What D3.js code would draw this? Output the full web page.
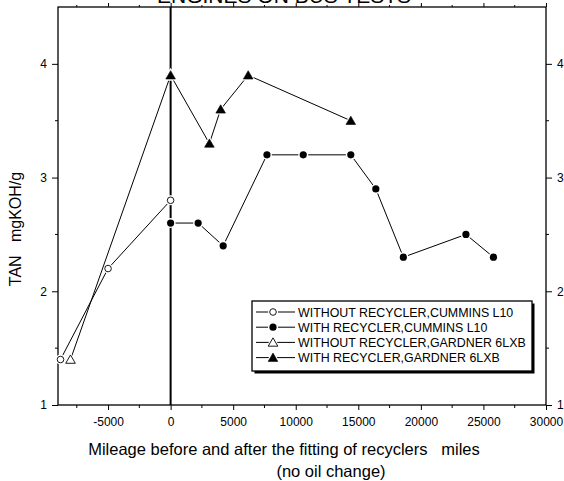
<!DOCTYPE html>
<html>
<head>
<meta charset="utf-8">
<script src="https://cdn.jsdelivr.net/npm/d3@7"></script>
<style>
  html, body { margin: 0; padding: 0; background: #fff; }
  svg { display: block; font-family: "Liberation Sans", Arial, sans-serif; }
  svg text { white-space: pre; }
</style>
</head>
<body>
<svg id="chart" width="564" height="481"></svg>
<script>
// TAN of engine oil, before and after the fitting of recyclers
const titleText = "ENGINES ON BUS TESTS";
const xLabel1 = "Mileage before and after the fitting of recyclers   miles";
const xLabel2 = "(no oil change)";
const yLabel = "TAN   mgKOH/g";

const xTicks = [-5000, 0, 5000, 10000, 15000, 20000, 25000, 30000];
const yTicks = [1, 2, 3, 4];

const seriesNames = [
  "WITHOUT RECYCLER,CUMMINS L10",
  "WITH RECYCLER,CUMMINS L10",
  "WITHOUT RECYCLER,GARDNER 6LXB",
  "WITH RECYCLER,GARDNER 6LXB"
];
const seriesMarkers = ["circle-open", "circle-filled", "triangle-open", "triangle-filled"];

const cumminsWithoutMiles = [-8800, -5000, 0];
const cumminsWithoutTAN   = [1.4, 2.2, 2.8];

const cumminsWithMiles = [0, 2200, 4200, 7700, 10600, 14400, 16400, 18600, 23600, 25800];
const cumminsWithTAN   = [2.6, 2.6, 2.4, 3.2, 3.2, 3.2, 2.9, 2.3, 2.5, 2.3];

const gardnerWithoutMiles = [-8000, 0];
const gardnerWithoutTAN   = [1.4, 3.9];

const gardnerWithMiles = [0, 3100, 4000, 6200, 14400];
const gardnerWithTAN   = [3.9, 3.3, 3.6, 3.9, 3.5];

const seriesData = [
  [cumminsWithoutMiles, cumminsWithoutTAN],
  [cumminsWithMiles, cumminsWithTAN],
  [gardnerWithoutMiles, gardnerWithoutTAN],
  [gardnerWithMiles, gardnerWithTAN]
];

const svg = d3.select("#chart");
const plot = { left: 58, right: 546, top: 7, bottom: 405 };

const x = d3.scaleLinear().domain([-9000, 30000]).range([plot.left, plot.right]);
const y = d3.scaleLinear().domain([1, 4.5]).range([plot.bottom, plot.top]);

const minorX = d3.range(-7500, 30001, 2500).filter(v => v % 5000 !== 0);
const minorY = d3.range(1.5, 4.5, 1);
const fmtInt = d => String(d); // plain hyphen for negatives

// frame
svg.append("rect")
  .attr("x", plot.left).attr("y", plot.top)
  .attr("width", plot.right - plot.left).attr("height", plot.bottom - plot.top)
  .attr("fill", "none").attr("stroke", "#000").attr("stroke-width", 1.3);

// bottom axis
const bottomAxis = svg.append("g").attr("transform", `translate(0,${plot.bottom})`)
  .call(d3.axisBottom(x).tickValues(xTicks).tickSize(5).tickPadding(7).tickFormat(fmtInt));
bottomAxis.append("g").selectAll("line").data(minorX).join("line")
  .attr("x1", d => x(d)).attr("x2", d => x(d)).attr("y1", 0).attr("y2", 3).attr("stroke", "#000");

// top axis (ticks only)
const topAxis = svg.append("g").attr("transform", `translate(0,${plot.top})`)
  .call(d3.axisTop(x).tickValues(xTicks).tickSize(4).tickFormat(""));
topAxis.append("g").selectAll("line").data(minorX).join("line")
  .attr("x1", d => x(d)).attr("x2", d => x(d)).attr("y1", 0).attr("y2", -2).attr("stroke", "#000");

// left axis
const leftAxis = svg.append("g").attr("transform", `translate(${plot.left},0)`)
  .call(d3.axisLeft(y).tickValues(yTicks).tickSize(6).tickPadding(5).tickFormat(fmtInt));
leftAxis.append("g").selectAll("line").data(minorY).join("line")
  .attr("x1", 0).attr("x2", -3).attr("y1", d => y(d)).attr("y2", d => y(d)).attr("stroke", "#000");

// right axis
const rightAxis = svg.append("g").attr("transform", `translate(${plot.right},0)`)
  .call(d3.axisRight(y).tickValues(yTicks).tickSize(6).tickPadding(5).tickFormat(fmtInt));
rightAxis.append("g").selectAll("line").data(minorY).join("line")
  .attr("x1", 0).attr("x2", 3).attr("y1", d => y(d)).attr("y2", d => y(d)).attr("stroke", "#000");

[bottomAxis, topAxis, leftAxis, rightAxis].forEach(a => {
  a.select(".domain").remove();
  a.selectAll(".tick line").attr("stroke", "#000");
  a.selectAll("text").attr("font-size", 12).attr("fill", "#000")
    .attr("font-family", "'Liberation Sans', Arial, sans-serif");
});

// vertical reference line at the fitting of the recyclers
svg.append("line")
  .attr("x1", x(0)).attr("x2", x(0)).attr("y1", plot.top).attr("y2", plot.bottom)
  .attr("stroke", "#000").attr("stroke-width", 2);

// markers
function drawMarker(g, kind, cx, cy) {
  const isTri = kind.startsWith("triangle");
  const filled = kind.endsWith("filled");
  const tri = (s) => d3.symbol().type(d3.symbolTriangle).size(s)();
  // white halo leaves a small gap between line and marker
  if (isTri) {
    g.append("path").attr("d", tri(90)).attr("transform", `translate(${cx},${cy + 1})`)
      .attr("fill", "#fff");
    g.append("path").attr("d", tri(40)).attr("transform", `translate(${cx},${cy + 1})`)
      .attr("fill", filled ? "#000" : "#fff").attr("stroke", "#000").attr("stroke-width", filled ? 0.6 : 0.9);
  } else {
    g.append("circle").attr("cx", cx).attr("cy", cy).attr("r", 5).attr("fill", "#fff");
    g.append("circle").attr("cx", cx).attr("cy", cy).attr("r", filled ? 3.6 : 3.3)
      .attr("fill", filled ? "#000" : "#fff").attr("stroke", "#000").attr("stroke-width", filled ? 0 : 0.9);
  }
}

const line = d3.line().x(d => x(d[0])).y(d => y(d[1]));
seriesData.forEach((s, i) => {
  const pts = s[0].map((m, k) => [m, s[1][k]]);
  const g = svg.append("g");
  g.append("path").attr("d", line(pts)).attr("fill", "none").attr("stroke", "#000").attr("stroke-width", 1);
  pts.forEach(p => drawMarker(g, seriesMarkers[i], x(p[0]), y(p[1])));
});

// legend
const lg = { x: 252, y: 301, w: 280, h: 70 };
svg.append("rect").attr("x", lg.x + 2.5).attr("y", lg.y + 2.5).attr("width", lg.w).attr("height", lg.h).attr("fill", "#000");
svg.append("rect").attr("x", lg.x).attr("y", lg.y).attr("width", lg.w).attr("height", lg.h)
  .attr("fill", "#fff").attr("stroke", "#000").attr("stroke-width", 1.3);
seriesNames.forEach((name, i) => {
  const ry = lg.y + 11 + i * 15.2;
  const g = svg.append("g");
  g.append("line").attr("x1", lg.x + 4).attr("x2", lg.x + 43).attr("y1", ry).attr("y2", ry)
    .attr("stroke", "#000").attr("stroke-width", 1);
  drawMarker(g, seriesMarkers[i], lg.x + 21, ry);
  g.append("text").attr("x", lg.x + 46).attr("y", ry + 4.5).attr("font-size", 12.4).attr("fill", "#000").text(name);
});

// titles
svg.append("text").attr("x", 284).attr("y", 3).attr("text-anchor", "middle")
  .attr("font-size", 21).attr("fill", "#000").text(titleText);
svg.append("text").attr("x", 284).attr("y", 455).attr("text-anchor", "middle")
  .attr("font-size", 16.5).attr("fill", "#000").text(xLabel1);
svg.append("text").attr("x", 331).attr("y", 477).attr("text-anchor", "middle")
  .attr("font-size", 16.5).attr("fill", "#000").text(xLabel2);
svg.append("text").attr("transform", "translate(21,229) rotate(-90)").attr("text-anchor", "middle")
  .attr("font-size", 16).attr("fill", "#000").text(yLabel);
</script>
</body>
</html>
